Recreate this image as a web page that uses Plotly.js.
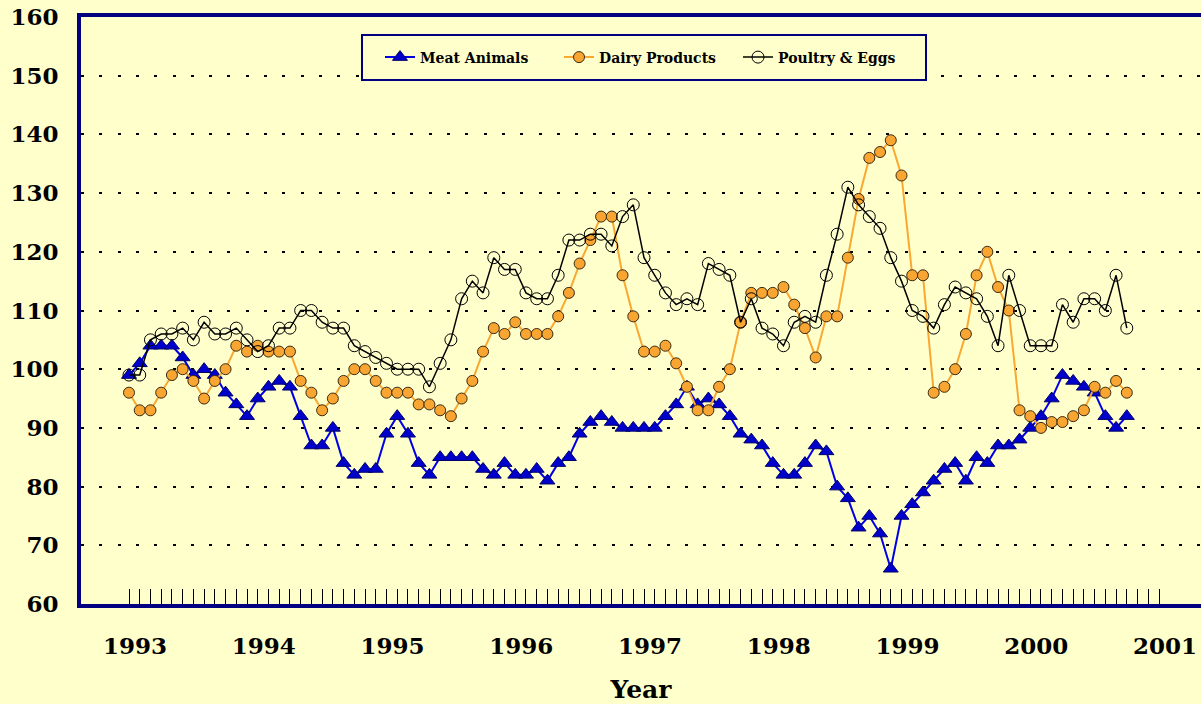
<!DOCTYPE html>
<html>
<head>
<meta charset="utf-8">
<script src="https://cdn.plot.ly/plotly-3.0.1.min.js"></script>
<style>
  html, body { margin: 0; padding: 0; background: #FFFFCC; }
  #chart { width: 1201px; height: 704px; }
</style>
</head>
<body>
<div id="chart"></div>
<script>
// Monthly index values, January 1993 through October 2000
const startYear = 1993;
const meatAnimals = [
  99,101,104,104,104,102,99,100,99,96,94,92,
  95,97,98,97,92,87,87,90,84,82,83,83,
  89,92,89,84,82,85,85,85,85,83,82,84,
  82,82,83,81,84,85,89,91,92,91,90,90,
  90,90,92,94,97,94,95,94,92,89,88,87,
  84,82,82,84,87,86,80,78,73,75,72,66,
  75,77,79,81,83,84,81,85,84,87,87,88,
  90,92,95,99,98,97,96,92,90,92
];
const dairyProducts = [
  96,93,93,96,99,100,98,95,98,100,104,103,
  104,103,103,103,98,96,93,95,98,100,100,98,
  96,96,96,94,94,93,92,95,98,103,107,106,
  108,106,106,106,109,113,118,122,126,126,116,109,
  103,103,104,101,97,93,93,97,100,108,113,113,
  113,114,111,107,102,109,109,119,129,136,137,139,
  133,116,116,96,97,100,106,116,120,114,110,93,
  92,90,91,91,92,93,97,96,98,96
];
const poultryEggs = [
  99,99,105,106,106,107,105,108,106,106,107,105,
  103,104,107,107,110,110,108,107,107,104,103,102,
  101,100,100,100,97,101,105,112,115,113,119,117,
  117,113,112,112,116,122,122,123,123,121,126,128,
  119,116,113,111,112,111,118,117,116,108,112,107,
  106,104,108,109,108,116,123,131,128,126,124,119,
  115,110,109,107,111,114,113,112,109,104,116,110,
  104,104,104,111,108,112,112,110,116,107
];
const yearLabels = ["1993","1994","1995","1996","1997","1998","1999","2000","2001"];
const seriesNames = ["Meat Animals", "Dairy Products", "Poultry & Eggs"];

const monthX = meatAnimals.map((_, i) => startYear + i / 12);

// monthly tick marks from 1993 to 2001, labelled once per year
const tickVals = [], tickText = [];
for (let k = 0; k <= (yearLabels.length - 1) * 12; k++) {
  tickVals.push(startYear + k / 12);
  tickText.push(k % 12 === 0 ? yearLabels[k / 12] : "");
}

const serif = "DejaVu Serif";
const traces = [
  {
    x: monthX, y: meatAnimals, name: seriesNames[0], type: "scatter", mode: "lines+markers",
    line: { color: "#0000E6", width: 2 },
    marker: { symbol: "triangle-up", size: 13, color: "#0000CC", line: { color: "#000066", width: 1 } }
  },
  {
    x: monthX, y: dairyProducts, name: seriesNames[1], type: "scatter", mode: "lines+markers",
    line: { color: "#F9A832", width: 2 },
    marker: { symbol: "circle", size: 11, color: "#F9A532", line: { color: "#3A2A10", width: 1 } }
  },
  {
    x: monthX, y: poultryEggs, name: seriesNames[2], type: "scatter", mode: "lines+markers",
    line: { color: "#000000", width: 1.5 },
    marker: { symbol: "circle-open", size: 12, color: "#000000", line: { color: "#000000", width: 1 } }
  }
];

const plotL = 81, plotR = 0, plotT = 17, plotB = 100, W = 1201, H = 704;
const pw = W - plotL - plotR, ph = H - plotT - plotB;
const px2x = p => (p - plotL) / pw;
const px2y = p => (H - plotB - p) / ph;

const layout = {
  width: W, height: H,
  margin: { l: plotL, r: plotR, t: plotT, b: plotB, pad: 0 },
  paper_bgcolor: "#FFFFCC",
  plot_bgcolor: "#FFFFCC",
  showlegend: true,
  legend: {
    orientation: "h",
    x: px2x(380), xanchor: "left",
    y: px2y(57.5), yanchor: "middle",
    bgcolor: "rgba(0,0,0,0)", borderwidth: 0,
    font: { family: serif, size: 14, color: "#000000", weight: "bold" },
    traceorder: "normal",
    entrywidth: 134
  },
  xaxis: {
    range: [startYear - 48 / 128.75, 2001 + 42 / 128.75],
    tickmode: "array", tickvals: tickVals, ticktext: tickText,
    ticks: "inside", ticklen: 15, tickwidth: 1, tickcolor: "#000000",
    ticklabelshift: 6, ticklabelstandoff: 18,
    tickfont: { family: serif, size: 23, color: "#000000", weight: "bold" },
    showgrid: false, zeroline: false,
    showline: true, linecolor: "#000080", linewidth: 4, mirror: true,
    title: { text: "Year", font: { family: serif, size: 25, color: "#000000", weight: "bold" }, standoff: 28 }
  },
  yaxis: {
    range: [60, 160], dtick: 10, tick0: 60,
    ticks: "", ticklabelstandoff: 14,
    tickfont: { family: serif, size: 23, color: "#000000", weight: "bold" },
    showgrid: true, gridcolor: "#000000", gridwidth: 2, griddash: "3px,15.3px",
    zeroline: false,
    showline: true, linecolor: "#000080", linewidth: 4
  },
  shapes: [
    {
      type: "rect", xref: "paper", yref: "paper",
      x0: px2x(362), x1: px2x(926), y0: px2y(80), y1: px2y(35),
      fillcolor: "#FFFFCC", line: { color: "#000080", width: 2 }, layer: "above"
    }
  ]
};

Plotly.newPlot("chart", traces, layout, { displayModeBar: false, staticPlot: true });
</script>
</body>
</html>
